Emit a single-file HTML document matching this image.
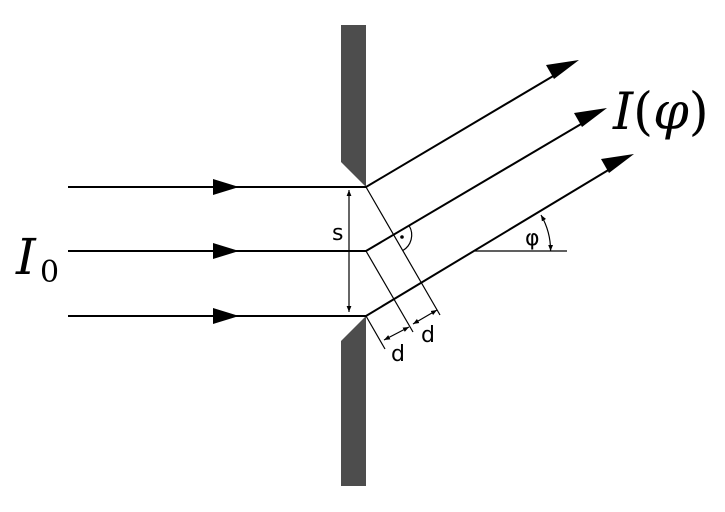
<!DOCTYPE html>
<html><head><meta charset="utf-8"><style>body{margin:0;background:#fff}svg{display:block}</style></head><body>
<svg width="725" height="512" viewBox="0 0 725 512" xmlns="http://www.w3.org/2000/svg">
<defs>
<marker id="sa" viewBox="0 0 10 10" refX="10" refY="5" markerWidth="6" markerHeight="6" orient="auto-start-reverse" markerUnits="userSpaceOnUse"><path d="M0,1 L10,5 L0,9 z" fill="#000"/></marker>
</defs>
<polygon points="341,25 366,25 366,187 341,162" fill="#4d4d4d"/>
<polygon points="366,316 341,341 341,486 366,486" fill="#4d4d4d"/>
<g stroke="#000" stroke-width="2" fill="none">
<line x1="68" y1="187" x2="366" y2="187"/>
<line x1="68" y1="251" x2="366" y2="251"/>
<line x1="68" y1="316" x2="366" y2="316"/>
<line x1="366" y1="187" x2="565" y2="69"/>
<line x1="366" y1="251" x2="593" y2="117"/>
<line x1="366" y1="316" x2="620" y2="163"/>
</g>
<g fill="#000">
<polygon points="579,60 554,79 546,65"/>
<polygon points="607,108 582,127 574,113"/>
<polygon points="634,154 609,173 601,159"/>
<polygon points="213,179 239,187 213,195"/>
<polygon points="213,243 239,251 213,259"/>
<polygon points="213,308 239,316 213,324"/>
</g>
<g stroke="#000" stroke-width="1.2" fill="none">
<line x1="366" y1="187" x2="440" y2="315"/>
<line x1="366" y1="251" x2="413" y2="332"/>
<line x1="366" y1="316" x2="385" y2="349"/>
<line x1="349" y1="190" x2="349" y2="312" marker-start="url(#sa)" marker-end="url(#sa)"/>
<line x1="384" y1="340" x2="409" y2="327" marker-start="url(#sa)" marker-end="url(#sa)"/>
<line x1="413" y1="324" x2="437" y2="310" marker-start="url(#sa)" marker-end="url(#sa)"/>
<path d="M409.3,226 A18,18 0 0 1 402.7,250.6"/>
<line x1="475" y1="251" x2="567" y2="251"/>
<path d="M541,215 A72,72 0 0 1 550.6,251" marker-start="url(#sa)" marker-end="url(#sa)"/>
</g>
<circle cx="402" cy="237" r="1.8" fill="#000"/>
<g font-family="'DejaVu Sans','Liberation Sans',sans-serif" font-size="22" fill="#000">
<text x="332" y="240">s</text>
<text x="391" y="361">d</text>
<text x="421" y="342">d</text>
<text x="525" y="245">φ</text>
</g>
<text x="16" y="274" font-family="'DejaVu Serif','Liberation Serif',serif" font-style="italic" font-size="50">I</text>
<text x="40" y="282" font-family="'DejaVu Serif','Liberation Serif',serif" font-size="30">0</text>
<text x="613" y="129" font-family="'DejaVu Serif','Liberation Serif',serif" font-size="51"><tspan font-style="italic">I</tspan>(<tspan font-style="italic">φ</tspan>)</text>
</svg>
</body></html>
